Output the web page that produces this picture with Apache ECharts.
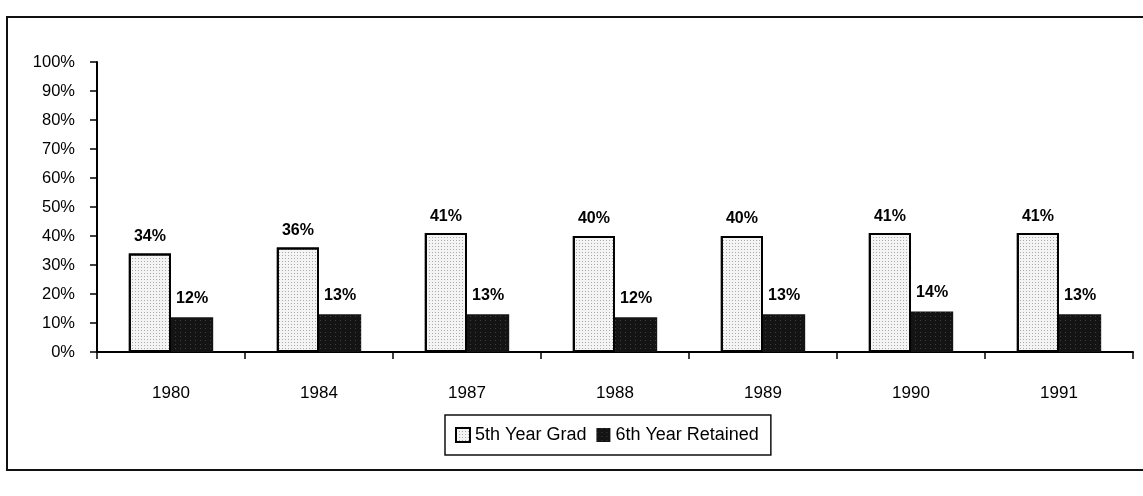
<!DOCTYPE html>
<html>
<head>
<meta charset="utf-8">
<script src="https://cdn.jsdelivr.net/npm/echarts@6/dist/echarts.min.js"></script>
<style>
  html, body { margin: 0; padding: 0; background: #fff; }
  #chart { width: 1143px; height: 496px; }
</style>
</head>
<body>
<div id="chart"></div>
<script>
// data
const years = ['1980', '1984', '1987', '1988', '1989', '1990', '1991'];
const gradFifth = [34, 36, 41, 40, 40, 41, 41];
const retainedSixth = [12, 13, 13, 12, 13, 14, 13];
const seriesNames = ['5th Year Grad', '6th Year Retained'];

const chart = echarts.init(document.getElementById('chart'));
const font = 'Liberation Sans, Arial, sans-serif';

chart.setOption({
  animation: false,
  textStyle: { fontFamily: font, color: '#000' },
  graphic: [{
    type: 'rect',
    shape: { x: 7, y: 17, width: 1150, height: 453 },
    style: { fill: 'none', stroke: '#111', lineWidth: 2 },
    z: -1
  }],
  grid: { left: 97, right: 10, top: 62, bottom: 144 },
  legend: {
    bottom: 41,
    left: 445,
    icon: 'rect',
    itemWidth: 14,
    itemHeight: 14,
    itemGap: 10,
    padding: [11, 12, 11, 10],
    borderColor: '#111',
    borderWidth: 1.5,
    textStyle: { fontSize: 18, fontFamily: font, color: '#000' },
    data: seriesNames
  },
  xAxis: {
    type: 'category',
    data: years,
    axisLine: { lineStyle: { color: '#000', width: 2 } },
    axisTick: { show: true, length: 7, lineStyle: { color: '#000', width: 1.5 } },
    axisLabel: { margin: 33, fontSize: 17, color: '#000' }
  },
  yAxis: {
    type: 'value',
    min: 0,
    max: 100,
    interval: 10,
    splitLine: { show: false },
    axisLine: { show: true, lineStyle: { color: '#000', width: 2 } },
    axisTick: { show: true, length: 7, lineStyle: { color: '#000', width: 1.5 } },
    axisLabel: { formatter: '{value}%', margin: 22, fontSize: 16.5, color: '#000' }
  },
  series: [
    {
      name: seriesNames[0],
      type: 'bar',
      data: gradFifth,
      barGap: '0%',
      barCategoryGap: '43%',
      itemStyle: {
        color: '#f4f4f4',
        borderColor: '#000',
        borderWidth: 2,
        decal: { symbol: 'rect', symbolSize: 1, color: 'rgba(0,0,0,0.3)', dashArrayX: [1, 2], dashArrayY: [1, 2] }
      },
      label: {
        show: true, position: 'top', distance: 9,
        formatter: '{c}%', fontSize: 16, fontWeight: 'bold', color: '#000'
      }
    },
    {
      name: seriesNames[1],
      type: 'bar',
      data: retainedSixth,
      itemStyle: {
        color: '#141414',
        decal: { symbol: 'rect', symbolSize: 1, color: 'rgba(255,255,255,0.18)', dashArrayX: [1, 4], dashArrayY: [1, 3] }
      },
      label: {
        show: true, position: 'top', distance: 11,
        formatter: '{c}%', fontSize: 16, fontWeight: 'bold', color: '#000'
      }
    }
  ]
});
</script>
</body>
</html>
